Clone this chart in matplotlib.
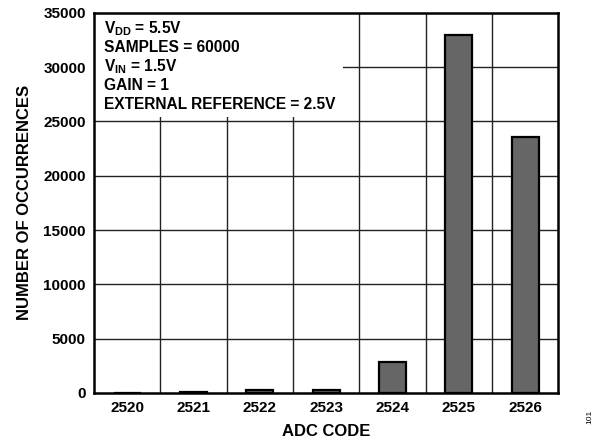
import matplotlib.pyplot as plt
from matplotlib.patches import Rectangle

plt.rcParams['font.family'] = ['Liberation Sans', 'DejaVu Sans']
plt.rcParams['font.weight'] = 'bold'
plt.rcParams['axes.labelweight'] = 'bold'
plt.rcParams['mathtext.fontset'] = 'custom'
plt.rcParams['mathtext.rm'] = 'Liberation Sans:bold'
plt.rcParams['mathtext.bf'] = 'Liberation Sans:bold'
plt.rcParams['mathtext.default'] = 'bf'

codes = ['2520', '2521', '2522', '2523', '2524', '2525', '2526']
occurrences = [40, 70, 300, 230, 2880, 32950, 23530]
y_ticks = [0, 5000, 10000, 15000, 20000, 25000, 30000, 35000]
notes = ['V$_{DD}$ = 5.5V', 'SAMPLES = 60000', 'V$_{IN}$ = 1.5V',
         'GAIN = 1', 'EXTERNAL REFERENCE = 2.5V']

fig = plt.figure(figsize=(5.99, 4.44), dpi=100)
ax = fig.add_axes([0.157, 0.115, 0.775, 0.856])

x = range(len(codes))
ax.bar(x, occurrences, width=0.41, color='#666666', edgecolor='black',
       linewidth=1.6, zorder=3)

ax.set_xlim(-0.5, len(codes) - 0.5)
ax.set_ylim(0, 35000)
ax.set_xticks(list(x))
ax.set_xticklabels(codes)
ax.set_yticks(y_ticks)

# grid: vertical lines between categories, horizontal at each y tick
for b in range(1, len(codes)):
    ax.axvline(b - 0.5, color='#222222', linewidth=1.0, zorder=1)
for t in y_ticks[1:-1]:
    ax.axhline(t, color='#222222', linewidth=1.0, zorder=1)

ax.tick_params(length=0, labelsize=11, pad=6)
for s in ax.spines.values():
    s.set_linewidth(1.8)
    s.set_zorder(5)

# white box behind the conditions text
ax.add_patch(Rectangle((0.002, 0.727), 0.535, 0.27, transform=ax.transAxes,
                       facecolor='white', edgecolor='none', zorder=2))
for i, n in enumerate(notes):
    ax.text(0.022, 0.958 - i * 0.0495, n, transform=ax.transAxes,
            fontsize=11.2, va='center', ha='left', zorder=4)

ax.set_xlabel('ADC CODE', fontsize=12, labelpad=6)
ax.set_ylabel('NUMBER OF OCCURRENCES', fontsize=12, labelpad=8)

fig.text(0.985, 0.06, '101', rotation=90, fontsize=6, weight='normal',
         ha='center', va='center')

fig.savefig('out.png', dpi=100)
